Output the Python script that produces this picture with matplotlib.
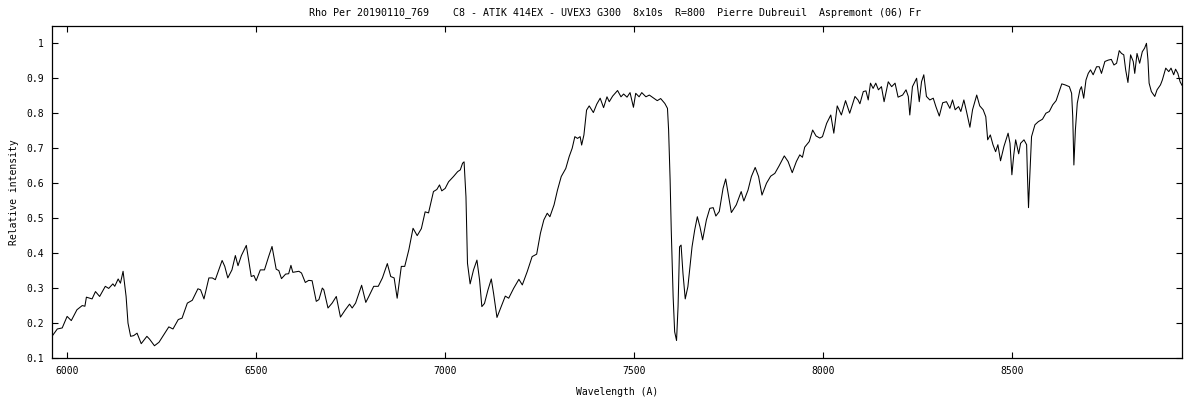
import numpy as np
import matplotlib
matplotlib.use("Agg")
import matplotlib.pyplot as plt

# spectrum (wavelength in A, relative intensity)
wavelength = [
    5960, 5974, 5987, 6000, 6011, 6026, 6040, 6047, 6051, 6066, 6075, 6086, 6101, 6110,
    6121, 6126, 6135, 6141, 6148, 6156, 6161, 6168, 6176, 6185, 6196, 6211, 6218, 6231,
    6243, 6256, 6269, 6280, 6294, 6304, 6318, 6331, 6346, 6353, 6362, 6375, 6384, 6392,
    6410, 6417, 6425, 6436, 6445, 6452, 6461, 6474, 6487, 6494, 6500, 6511, 6522, 6533,
    6542, 6553, 6560, 6567, 6578, 6586, 6592, 6597, 6613, 6620, 6630, 6639, 6648, 6659,
    6666, 6675, 6679, 6690, 6701, 6712, 6723, 6736, 6747, 6754, 6763, 6779, 6790, 6798,
    6811, 6823, 6834, 6847, 6856, 6865, 6873, 6884, 6893, 6904, 6915, 6926, 6937,
    6947, 6956, 6969, 6978, 6985, 6991, 7000, 7009, 7022, 7033, 7040, 7046, 7050, 7055,
    7059, 7066, 7075, 7084, 7091, 7097, 7104, 7113, 7122, 7128, 7137, 7150, 7159, 7168,
    7181, 7195, 7204, 7217, 7230, 7242, 7252, 7261, 7270, 7277, 7288, 7297, 7307, 7319,
    7328, 7336, 7343, 7350, 7357, 7361, 7367, 7374, 7381, 7392, 7401, 7410, 7419, 7428,
    7434, 7443, 7456, 7465, 7472, 7481, 7489, 7498, 7504, 7513, 7520, 7531, 7540, 7549,
    7561, 7570, 7581, 7588, 7591, 7595, 7598, 7603, 7607, 7612, 7616, 7620, 7624, 7629,
    7635, 7642, 7653, 7660, 7667, 7674, 7681, 7691, 7700, 7709, 7716, 7725, 7735, 7742,
    7750, 7757, 7770, 7783, 7790, 7801, 7810, 7820, 7829, 7838, 7850, 7861, 7872, 7883,
    7897, 7907, 7918, 7929, 7938, 7945, 7951, 7963, 7972, 7981, 7991, 7998, 8009,
    8020, 8028, 8037, 8048, 8059, 8070, 8084, 8092, 8097, 8106, 8113, 8119, 8125, 8132,
    8139, 8146, 8154, 8161, 8172, 8181, 8190, 8198, 8210, 8219, 8225, 8229, 8236, 8247,
    8254, 8260, 8266, 8273, 8282, 8291, 8298, 8307, 8316, 8326, 8335, 8342, 8349, 8358,
    8364, 8372, 8379, 8388, 8395, 8406, 8414, 8423, 8430, 8435, 8442, 8449, 8456, 8462,
    8469, 8478, 8489, 8494, 8499, 8504, 8509, 8517, 8522, 8531, 8538, 8540, 8543, 8546,
    8551, 8560, 8569, 8580, 8589, 8598, 8607, 8616, 8624, 8631, 8640, 8651, 8657, 8660,
    8663, 8667, 8672, 8679, 8683, 8689, 8695, 8701, 8707, 8714, 8723, 8730, 8736, 8745,
    8754, 8762, 8769, 8776, 8783, 8789, 8795, 8800, 8806, 8813, 8820, 8824, 8830, 8837,
    8844, 8850, 8855, 8859, 8862, 8868, 8877, 8883, 8892, 8897, 8906, 8914, 8920, 8927,
    8932, 8938, 8944, 8949,
]
intensity = [
    0.162, 0.183, 0.186, 0.219, 0.207, 0.238, 0.250, 0.248, 0.274, 0.269, 0.290, 0.276, 0.305, 0.299,
    0.312, 0.305, 0.326, 0.314, 0.348, 0.276, 0.200, 0.162, 0.164, 0.171, 0.141, 0.162, 0.154, 0.135,
    0.145, 0.167, 0.189, 0.183, 0.210, 0.214, 0.257, 0.265, 0.298, 0.295, 0.269, 0.329, 0.329, 0.324,
    0.379, 0.362, 0.329, 0.352, 0.393, 0.364, 0.393, 0.422, 0.333, 0.336, 0.321, 0.352, 0.352, 0.390,
    0.419, 0.354, 0.350, 0.327, 0.340, 0.341, 0.365, 0.345, 0.348, 0.343, 0.316, 0.322, 0.321, 0.262,
    0.267, 0.300, 0.295, 0.243, 0.257, 0.276, 0.217, 0.238, 0.254, 0.243, 0.257, 0.308, 0.259, 0.276,
    0.305, 0.305, 0.329, 0.370, 0.333, 0.329, 0.271, 0.362, 0.362, 0.410, 0.471, 0.450, 0.470,
    0.518, 0.515, 0.576, 0.582, 0.595, 0.578, 0.585, 0.604, 0.619, 0.633, 0.638, 0.657, 0.661, 0.561,
    0.371, 0.312, 0.352, 0.380, 0.323, 0.247, 0.256, 0.294, 0.326, 0.285, 0.216, 0.252, 0.277, 0.271,
    0.299, 0.325, 0.309, 0.347, 0.390, 0.397, 0.457, 0.495, 0.514, 0.504, 0.538, 0.580, 0.619, 0.642,
    0.676, 0.700, 0.733, 0.728, 0.733, 0.709, 0.738, 0.809, 0.821, 0.802, 0.826, 0.843, 0.816, 0.847,
    0.833, 0.849, 0.865, 0.847, 0.855, 0.846, 0.859, 0.817, 0.857, 0.847, 0.859, 0.847, 0.852, 0.845,
    0.836, 0.842, 0.828, 0.814, 0.752, 0.609, 0.466, 0.275, 0.175, 0.150, 0.247, 0.418, 0.423, 0.342,
    0.269, 0.304, 0.418, 0.466, 0.504, 0.475, 0.438, 0.495, 0.528, 0.530, 0.506, 0.519, 0.585, 0.612,
    0.561, 0.516, 0.538, 0.576, 0.549, 0.580, 0.619, 0.645, 0.619, 0.566, 0.600, 0.620, 0.628, 0.649,
    0.678, 0.662, 0.630, 0.662, 0.681, 0.674, 0.703, 0.719, 0.752, 0.735, 0.729, 0.733, 0.771,
    0.795, 0.743, 0.821, 0.795, 0.836, 0.800, 0.848, 0.838, 0.827, 0.862, 0.864, 0.838, 0.886, 0.871,
    0.886, 0.867, 0.876, 0.833, 0.890, 0.876, 0.886, 0.846, 0.852, 0.867, 0.848, 0.795, 0.876, 0.900,
    0.833, 0.890, 0.910, 0.848, 0.838, 0.843, 0.819, 0.792, 0.830, 0.833, 0.814, 0.838, 0.810, 0.819,
    0.805, 0.838, 0.805, 0.760, 0.810, 0.852, 0.821, 0.810, 0.790, 0.724, 0.738, 0.710, 0.690, 0.710,
    0.664, 0.705, 0.743, 0.714, 0.624, 0.681, 0.724, 0.684, 0.714, 0.724, 0.710, 0.629, 0.530, 0.610,
    0.733, 0.767, 0.776, 0.783, 0.800, 0.805, 0.824, 0.836, 0.862, 0.884, 0.881, 0.876, 0.857, 0.790,
    0.652, 0.752, 0.829, 0.867, 0.876, 0.843, 0.895, 0.914, 0.924, 0.910, 0.933, 0.933, 0.914, 0.948,
    0.952, 0.954, 0.938, 0.943, 0.979, 0.971, 0.967, 0.924, 0.888, 0.967, 0.948, 0.914, 0.971, 0.943,
    0.976, 0.986, 1.000, 0.952, 0.886, 0.862, 0.848, 0.867, 0.881, 0.895, 0.929, 0.919, 0.929, 0.910,
    0.926, 0.914, 0.890, 0.880,
]

x_ticks = [6000, 6500, 7000, 7500, 8000, 8500]
y_ticks = [0.1, 0.2, 0.3, 0.4, 0.5, 0.6, 0.7, 0.8, 0.9, 1.0]
y_tick_labels = ["0.1", "0.2", "0.3", "0.4", "0.5", "0.6", "0.7", "0.8", "0.9", "1"]

title = ("Rho Per 20190110_769    C8 - ATIK 414EX - UVEX3 G300  8x10s  R=800  "
         "Pierre Dubreuil  Aspremont (06) Fr")

plt.rcParams["font.family"] = "DejaVu Sans Mono"
plt.rcParams["font.size"] = 7

fig = plt.figure(figsize=(12, 4), dpi=100)
ax = fig.add_axes([52 / 1200, 42 / 400, 1130 / 1200, 332 / 400])

ax.plot(wavelength, intensity, color="black", linewidth=0.75)

ax.set_xlim(5960, 8949)
ax.set_ylim(0.1, 1.0495)
ax.set_xticks(x_ticks)
ax.set_xticklabels([str(t) for t in x_ticks])
ax.set_yticks(y_ticks)
ax.set_yticklabels(y_tick_labels)
ax.tick_params(direction="in", length=4, width=0.8, top=True, right=True, pad=6)
for s in ax.spines.values():
    s.set_linewidth(0.9)

ax.set_xlabel("Wavelength (A)", labelpad=8)
ax.set_ylabel("Relative intensity", labelpad=5)
fig.text(0.5 + 15 / 1200, 1 - 13 / 400, title, ha="center", va="center", fontsize=7.2)

fig.savefig("out.png", dpi=100)
